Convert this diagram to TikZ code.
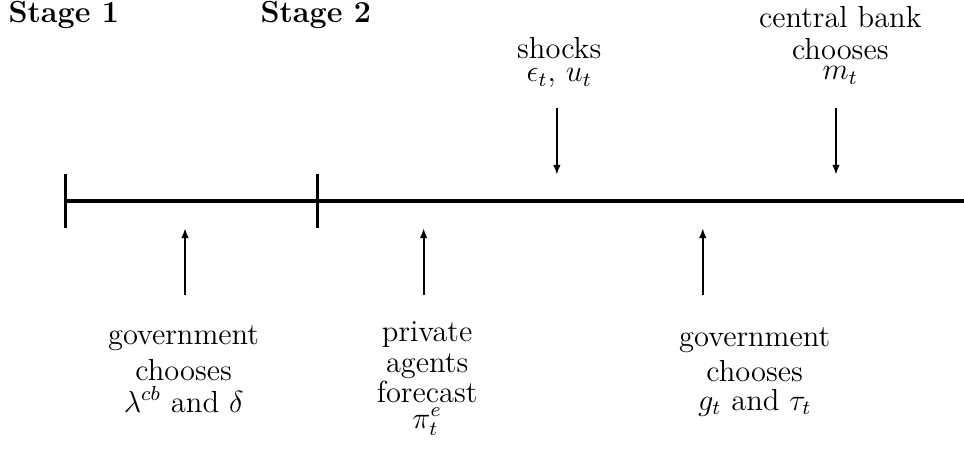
\documentclass[tikz,border=0pt,12pt]{standalone}
\usepackage{amsmath,amssymb}
\usetikzlibrary{arrows.meta}

\tikzset{
    axis/.style={line width=1.2pt},
    event/.style={line width=0.8pt,-{Latex[length=4pt,width=3pt]}},
    lbl/.style={align=center,inner sep=0pt,anchor=base},
}

\begin{document}
\begin{tikzpicture}
    \useasboundingbox (0,0) rectangle (13.338,6.296);
    % timeline and stage marks
    \coordinate (start) at (0.906,3.515);
    \coordinate (split) at (4.387,3.515);
    \coordinate (stop) at (13.338,3.515);
    \draw[axis] (start) -- (stop);
    \draw[axis] (0.906,3.142) -- (0.906,3.889);
    \draw[axis] (4.387,3.142) -- (4.387,3.889);
    \node[inner sep=0pt,anchor=base west] (stage1) at (0.111,5.979) {\textbf{Stage 1}};
    \node[inner sep=0pt,anchor=base west] (stage2) at (3.598,5.979) {\textbf{Stage 2}};
    % events above the line (anchored at the last baseline)
    \node[lbl] (shocks) at (7.737,5.162) {shocks\\[-5.1pt] $\epsilon_t$, $u_t$};
    \node[lbl] (cb) at (11.626,5.190) {central bank\\[-1.9pt] chooses\\[-6.6pt] $m_t$};
    \coordinate (shocksfrom) at (7.705,4.802);
    \coordinate (shocksto) at (7.705,3.875);
    \coordinate (cbfrom) at (11.566,4.802);
    \coordinate (cbto) at (11.566,3.875);
    \draw[event] (shocksfrom) -- (shocksto);
    \draw[event] (cbfrom) -- (cbto);
    % events below the line
    \node[lbl] (gov1) at (2.540,0.595) {government\\[-0.7pt] chooses\\[-1.9pt] $\lambda^{cb}$ and $\delta$};
    \node[lbl] (agents) at (5.910,0.374) {private\\[-2.2pt] agents\\[-2.7pt] forecast\\[-4.6pt] $\pi_t^e$};
    \node[lbl] (gov2) at (10.442,0.623) {government\\[-0.7pt] chooses\\[-3.4pt] $g_t$ and $\tau_t$};
    \coordinate (gov1from) at (2.560,2.214);
    \coordinate (gov1to) at (2.560,3.142);
    \coordinate (agentsfrom) at (5.861,2.214);
    \coordinate (agentsto) at (5.861,3.142);
    \coordinate (gov2from) at (9.723,2.214);
    \coordinate (gov2to) at (9.723,3.142);
    \draw[event] (gov1from) -- (gov1to);
    \draw[event] (agentsfrom) -- (agentsto);
    \draw[event] (gov2from) -- (gov2to);
\end{tikzpicture}
\end{document}
